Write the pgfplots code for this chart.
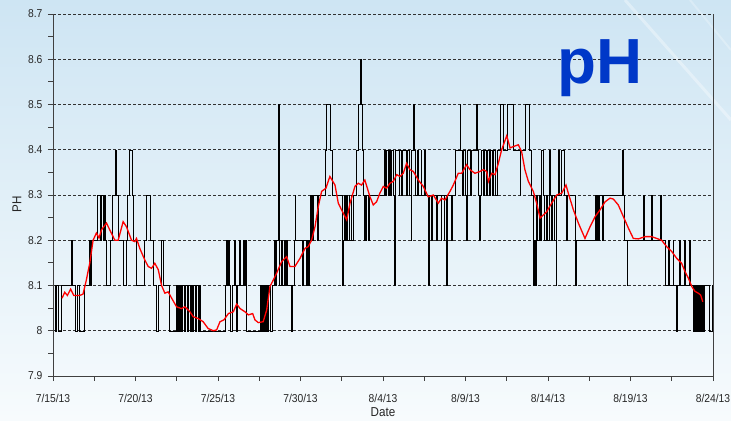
\documentclass[border=0pt]{standalone}
\usepackage{pgfplots}
\pgfplotsset{compat=1.18}
\usepackage{fontspec}
\setmainfont{Liberation Sans}
\newfontfamily\narrowfont[FakeStretch=0.9]{Liberation Sans}
\definecolor{bgtop}{RGB}{206,229,243}
\definecolor{bgbot}{RGB}{247,251,253}
\definecolor{phblue}{RGB}{0,56,200}
\definecolor{gridc}{RGB}{50,50,50}
\begin{document}
\begin{tikzpicture}[x=1bp,y=1bp]
\path[use as bounding box] (0,0) rectangle (731,420);
\shade[top color=bgtop, bottom color=bgbot] (0,0) rectangle (731,420);
\draw[white, opacity=0.35, line width=3bp] (625,420) -- (731,300);
\draw[white, opacity=0.25, line width=2bp] (690,420) -- (731,370);
\begin{axis}[
  at={(53bp,44bp)}, anchor=south west,
  width=660bp, height=362bp, scale only axis,
  xmin=0, xmax=40, ymin=7.9, ymax=8.7,
  axis x line*=bottom, axis y line*=left,
  axis line style={black!75, line width=0.9bp, -},
  xtick={0,5,...,40},
  xticklabels={7/15/13,7/20/13,7/25/13,7/30/13,8/4/13,8/9/13,8/14/13,8/19/13,8/24/13},
  ytick={7.9,8.0,8.1,8.2,8.3,8.4,8.5,8.6,8.7},
  yticklabels={7.9,8,8.1,8.2,8.3,8.4,8.5,8.6,8.7},
  minor x tick num=1, minor y tick num=1,
  tick align=outside,
  major tick length=5bp, minor tick length=4.5bp,
  tick style={black!75, line width=0.8bp},
  ymajorgrids,
  major grid style={gridc, line width=0.8bp, dash pattern=on 3bp off 2bp},
  ticklabel style={font=\narrowfont\fontsize{11.5}{13}\selectfont, text=black!85},
  xticklabel style={yshift=-10bp},
  yticklabel style={xshift=-2bp},
  xlabel={Date}, ylabel={PH},
  label style={font=\narrowfont\fontsize{13}{15}\selectfont, text=black!85},
  xlabel style={at={(rel axis cs:0.5,0)}, anchor=center, yshift=-36bp},
  ylabel style={at={(rel axis cs:0,0.475)}, anchor=center, yshift=36bp},
]
\addplot[const plot, black, line width=0.5bp] coordinates {
(0.10,8.1)(0.14,8.0)(0.22,8.1)(0.30,8.0)(0.48,8.1)(1.08,8.2)(1.14,8.1)(1.32,8.0)(1.44,8.1)(1.60,8.0)(1.88,8.1)
(2.20,8.2)(2.28,8.1)(2.34,8.2)(2.66,8.3)(2.84,8.2)(2.90,8.3)(3.02,8.2)(3.08,8.3)(3.14,8.2)(3.24,8.1)(3.46,8.2)
(3.58,8.3)(3.78,8.4)(3.84,8.3)(3.94,8.2)(4.24,8.1)(4.44,8.2)(4.52,8.3)(4.60,8.4)(4.80,8.3)(4.86,8.2)(5.04,8.1)
(5.50,8.2)(5.66,8.3)(5.90,8.2)(6.06,8.1)(6.24,8.0)(6.40,8.1)(6.56,8.2)(6.70,8.1)(7.06,8.0)(7.44,8.1)(7.50,8.0)
(7.58,8.1)(7.66,8.0)(7.74,8.1)(7.80,8.0)(7.86,8.1)(7.96,8.0)(8.04,8.1)(8.12,8.0)(8.20,8.1)(8.30,8.0)(8.38,8.1)
(8.46,8.0)(8.52,8.1)(8.62,8.0)(8.70,8.1)(8.78,8.0)(8.86,8.1)(8.94,8.0)
(10.42,8.1)(10.48,8.2)(10.56,8.1)(10.62,8.2)(10.66,8.1)(10.76,8.0)(10.84,8.1)(10.98,8.2)(11.02,8.1)(11.12,8.0)
(11.18,8.1)(11.30,8.2)(11.36,8.1)(11.54,8.2)(11.60,8.1)(11.66,8.2)(11.72,8.0)
(12.56,8.1)(12.62,8.0)(12.68,8.1)(12.74,8.0)(12.80,8.1)(12.86,8.0)(12.92,8.1)(12.98,8.0)(13.06,8.1)(13.16,8.0)
(13.30,8.1)(13.42,8.2)(13.46,8.1)(13.52,8.2)(13.64,8.5)(13.70,8.2)(13.74,8.1)(13.86,8.2)(13.92,8.1)(14.00,8.2)
(14.08,8.1)(14.16,8.2)(14.22,8.1)(14.44,8.0)(14.48,8.1)(14.60,8.2)(14.66,8.3)(14.70,8.2)(15.10,8.1)(15.14,8.2)
(15.34,8.1)(15.38,8.2)(15.46,8.1)(15.50,8.2)(15.60,8.3)(15.64,8.2)(15.72,8.3)(15.76,8.2)(15.80,8.3)(16.00,8.2)
(16.06,8.3)(16.50,8.4)(16.56,8.5)(16.78,8.4)(16.92,8.3)(17.56,8.1)(17.62,8.2)(17.66,8.3)(17.70,8.2)(17.80,8.3)
(17.84,8.2)(17.94,8.3)(17.98,8.2)(18.06,8.3)(18.10,8.2)(18.20,8.3)(18.40,8.4)(18.48,8.5)(18.62,8.6)(18.66,8.5)
(18.76,8.4)(18.82,8.3)(18.86,8.2)(18.92,8.3)(18.96,8.2)(19.00,8.3)(19.08,8.2)(19.14,8.3)(20.10,8.4)(20.16,8.3)
(20.22,8.4)(20.30,8.3)(20.36,8.4)(20.42,8.3)(20.50,8.4)(20.64,8.3)(20.70,8.1)(20.74,8.4)(20.96,8.3)(21.00,8.4)
(21.10,8.3)(21.14,8.4)(21.40,8.3)(21.44,8.4)(21.60,8.3)(21.70,8.2)(21.74,8.4)(21.84,8.5)(21.88,8.4)(21.96,8.3)
(22.10,8.4)(22.14,8.3)(22.30,8.4)(22.34,8.3)(22.50,8.4)(22.56,8.3)(22.76,8.1)(22.80,8.3)(22.94,8.2)(22.98,8.3)
(23.24,8.2)(23.28,8.3)(23.50,8.2)(23.54,8.3)(23.70,8.2)(23.74,8.3)(23.84,8.1)(23.88,8.3)(24.14,8.2)(24.18,8.3)
(24.40,8.4)(24.66,8.5)(24.70,8.4)(24.80,8.3)(24.86,8.4)(24.98,8.3)(25.04,8.2)(25.08,8.4)(25.30,8.3)(25.34,8.4)
(25.64,8.5)(25.72,8.4)(25.80,8.3)(25.86,8.2)(25.90,8.3)(25.98,8.4)(26.06,8.3)(26.14,8.4)(26.24,8.3)(26.30,8.4)
(26.42,8.3)(26.50,8.4)(26.60,8.3)(26.70,8.4)(26.80,8.3)(26.90,8.4)(27.10,8.5)(27.30,8.4)(27.50,8.5)(27.90,8.4)
(28.30,8.3)(28.34,8.4)(28.60,8.5)(28.88,8.4)(28.98,8.3)(29.08,8.1)(29.14,8.2)(29.20,8.1)(29.26,8.2)(29.30,8.3)
(29.36,8.2)(29.44,8.3)(29.50,8.2)(29.62,8.4)(29.70,8.3)(29.80,8.2)(29.88,8.3)(29.96,8.2)(30.06,8.4)(30.12,8.3)
(30.20,8.2)(30.28,8.3)(30.40,8.2)(30.48,8.1)(30.52,8.3)(30.64,8.4)(30.70,8.3)(30.80,8.4)(31.00,8.3)(31.10,8.2)
(31.16,8.3)(31.66,8.1)(31.72,8.2)(32.84,8.3)(32.90,8.2)(32.96,8.3)(33.04,8.2)(33.10,8.3)(33.30,8.2)(33.36,8.3)
(34.50,8.4)(34.56,8.3)(34.62,8.2)(34.78,8.1)(34.82,8.2)(35.80,8.3)(35.86,8.2)(36.28,8.3)(36.34,8.2)(36.78,8.3)
(36.84,8.2)(37.10,8.1)(37.28,8.2)(37.34,8.1)(37.56,8.2)(37.62,8.1)(37.80,8.0)(37.84,8.1)(37.98,8.2)(38.04,8.1)
(38.26,8.2)(38.32,8.1)(38.56,8.2)(38.62,8.1)(38.80,8.0)(38.86,8.1)(38.92,8.0)(39.00,8.1)(39.04,8.0)(39.12,8.1)
(39.16,8.0)(39.22,8.1)(39.26,8.0)(39.34,8.1)(39.40,8.0)(39.44,8.1)(39.80,8.0)(39.96,8.1)(39.97,8.1)
};
\addplot[red, line width=1.3bp] coordinates {
(0.55,8.072)(0.71,8.085)(0.87,8.078)(1.07,8.092)(1.26,8.078)(1.62,8.078)(1.82,8.081)(2.02,8.112)(2.23,8.15)
(2.43,8.2)(2.63,8.216)(2.79,8.205)(2.94,8.223)(3.24,8.238)(3.44,8.223)(3.75,8.2)(3.95,8.2)(4.25,8.241)(4.45,8.23)
(4.76,8.2)(4.96,8.197)(5.06,8.204)(5.26,8.182)(5.57,8.156)(5.77,8.142)(5.97,8.138)(6.17,8.149)(6.38,8.135)
(6.58,8.1)(6.78,8.083)(6.98,8.086)(7.19,8.072)(7.49,8.053)(7.79,8.049)(7.99,8.053)(8.3,8.042)(8.5,8.031)
(8.8,8.027)(9.1,8.02)(9.4,8.005)(9.72,8.0)(9.92,8.002)(10.12,8.02)(10.36,8.024)(10.63,8.038)(10.93,8.042)
(11.13,8.059)(11.34,8.049)(11.63,8.042)(11.84,8.035)(12.1,8.038)(12.24,8.024)(12.44,8.018)(12.74,8.02)
(12.95,8.046)(13.15,8.098)(13.35,8.112)(13.55,8.127)(13.86,8.153)(14.16,8.164)(14.36,8.142)(14.66,8.142)
(14.97,8.16)(15.27,8.182)(15.47,8.186)(15.67,8.2)(15.88,8.23)(16.08,8.275)(16.28,8.308)(16.54,8.315)
(16.78,8.341)(17.09,8.322)(17.29,8.282)(17.49,8.267)(17.8,8.245)(18.0,8.282)(18.3,8.319)(18.5,8.326)
(18.7,8.322)(18.9,8.333)(19.21,8.296)(19.41,8.278)(19.61,8.285)(19.81,8.304)(20.02,8.319)(20.22,8.315)
(20.42,8.326)(20.62,8.33)(20.83,8.345)(21.03,8.341)(21.23,8.348)(21.43,8.37)(21.63,8.356)(21.84,8.352)
(22.14,8.333)(22.44,8.319)(22.74,8.296)(23.05,8.3)(23.35,8.282)(23.55,8.293)(23.75,8.289)(24.06,8.308)
(24.26,8.322)(24.56,8.348)(24.77,8.348)(25.07,8.367)(25.27,8.356)(25.57,8.348)(25.88,8.352)(26.08,8.356)
(26.28,8.352)(26.39,8.33)(26.59,8.348)(26.79,8.345)(26.99,8.37)(27.19,8.4)(27.5,8.431)(27.7,8.404)(27.9,8.407)
(28.2,8.411)(28.4,8.396)(28.6,8.356)(28.81,8.33)(29.11,8.308)(29.31,8.282)(29.52,8.249)(29.72,8.256)
(29.92,8.263)(30.22,8.282)(30.53,8.3)(30.83,8.304)(31.09,8.322)(31.23,8.304)(31.54,8.267)(31.84,8.238)
(32.24,8.204)(32.55,8.23)(32.85,8.252)(33.15,8.267)(33.46,8.285)(33.76,8.293)(33.96,8.291)(34.26,8.278)
(34.57,8.252)(34.87,8.227)(35.17,8.204)(35.48,8.203)(35.88,8.208)(36.28,8.208)(36.59,8.204)(36.89,8.2)
(37.19,8.186)(37.5,8.175)(37.8,8.16)(38.1,8.149)(38.3,8.131)(38.51,8.116)(38.71,8.098)(38.91,8.087)
(39.11,8.083)(39.25,8.079)(39.38,8.064)
};
\end{axis}
\draw[black!75, line width=0.9bp] (713,44) -- (713,406);
\node[anchor=base, text=phblue, font=\bfseries\fontsize{64}{70}\selectfont, inner sep=0pt] at (600,337) {pH};
\end{tikzpicture}
\end{document}
